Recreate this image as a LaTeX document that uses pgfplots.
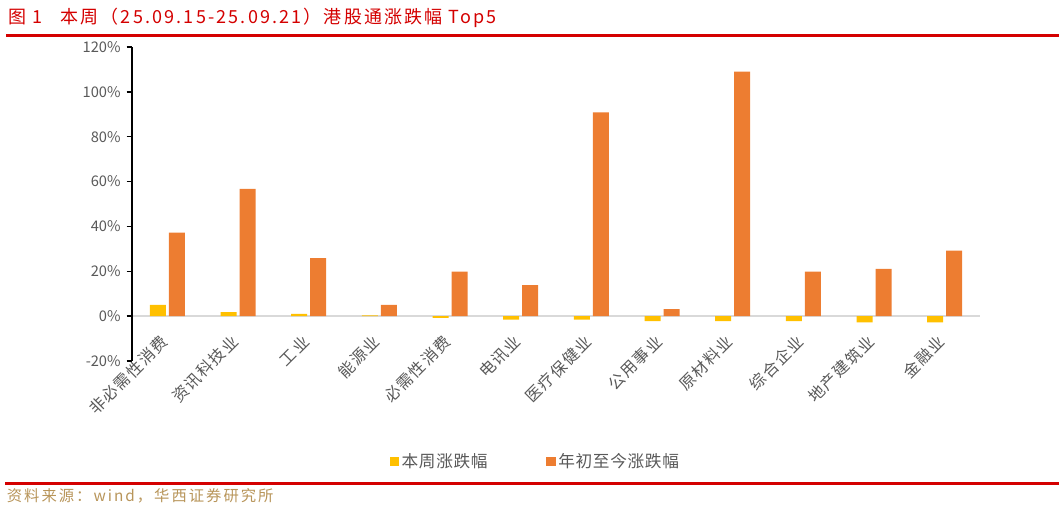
\documentclass[border=0pt]{standalone}
\usepackage{fontspec}
\setmainfont{Noto Sans CJK SC}
\usepackage{pgfplots}
\pgfplotsset{compat=1.18}
\definecolor{cyel}{HTML}{FFC000}
\definecolor{corg}{HTML}{ED7D31}
\definecolor{cred}{HTML}{D40000}
\definecolor{ctxt}{HTML}{595959}
\definecolor{csrc}{HTML}{B8955A}
\definecolor{czero}{HTML}{D9D9D9}

\begin{document}
\begin{tikzpicture}
% page frame: 1064 x 509 px at 0.75bp per px
\path (0,0) rectangle (798bp,-381.75bp);
\node[anchor=base west, text=cred, inner sep=0, font=\fontsize{13.5bp}{15bp}\selectfont\addfontfeature{LetterSpace=12}]
  at (6bp,-17.5bp) {图 1\quad 本周（25.09.15-25.09.21）港股通涨跌幅 Top5};
\draw[cred, line width=2.2bp] (4.5bp,-26.3bp) -- (794bp,-26.3bp);
\draw[cred, line width=2.2bp] (4bp,-362.3bp) -- (794bp,-362.3bp);
\node[anchor=base west, text=csrc, inner sep=0, font=\fontsize{11.5bp}{13bp}\selectfont\addfontfeature{LetterSpace=13}]
  at (5bp,-376bp) {资料来源：wind，华西证券研究所};

\begin{axis}[
  at={(99bp,-270.75bp)}, anchor=south west,
  scale only axis,
  width=636bp, height=235.5bp,
  ybar=2.25bp, bar width=12bp,
  xmin=-0.5, xmax=11.5,
  ymin=-20, ymax=120,
  ytick={-20,0,...,120},
  xtick={0,...,11},
  xticklabels={非必需性消费,资讯科技业,工业,能源业,必需性消费,电讯业,医疗保健业,公用事业,原材料业,综合企业,地产建筑业,金融业},
  axis x line=middle,
  axis y line=left,
  x axis line style={czero, line width=1.1bp, -},
  y axis line style={black, line width=1bp, -},
  ytick pos=left, tick align=outside,
  major tick length=4bp,
  y tick style={black, line width=1bp},
  x tick style={draw=none},
  yticklabel={\pgfmathprintnumber{\tick}\%},
  /pgf/number format/assume math mode=true,
  yticklabel style={text=ctxt, font=\fontsize{11bp}{12bp}\selectfont, xshift=-1bp},
  xticklabel style={text=ctxt, font=\fontsize{12bp}{13bp}\selectfont\addfontfeature{LetterSpace=8}, rotate=45, anchor=east, yshift=-7.8bp, xshift=-7.2bp},
  legend style={at={(0.476,-0.32)}, anchor=center, draw=none, fill=none,
    legend columns=2, font=\fontsize{12.5bp}{14bp}\selectfont\addfontfeature{LetterSpace=4}, text=ctxt,
    /tikz/every even column/.append style={column sep=42bp}},
  clip=false,
]
\addplot[fill=cyel, draw=none,
  legend image code/.code={\fill[cyel] (0bp,-3.5bp) rectangle (7bp,3.5bp);}]
  coordinates {(0,5.0) (1,1.8) (2,1.0) (3,0.3) (4,-0.8) (5,-1.5) (6,-1.5) (7,-2.2) (8,-2.2) (9,-2.2) (10,-2.8) (11,-2.8)};
\addplot[fill=corg, draw=none,
  legend image code/.code={\fill[corg] (0bp,-3.5bp) rectangle (7bp,3.5bp);}]
  coordinates {(0,37.2) (1,56.7) (2,25.9) (3,5.0) (4,19.9) (5,13.8) (6,90.8) (7,3.1) (8,109.0) (9,19.9) (10,21.1) (11,29.2)};
\legend{本周涨跌幅,年初至今涨跌幅}
\end{axis}
\end{tikzpicture}
\end{document}
